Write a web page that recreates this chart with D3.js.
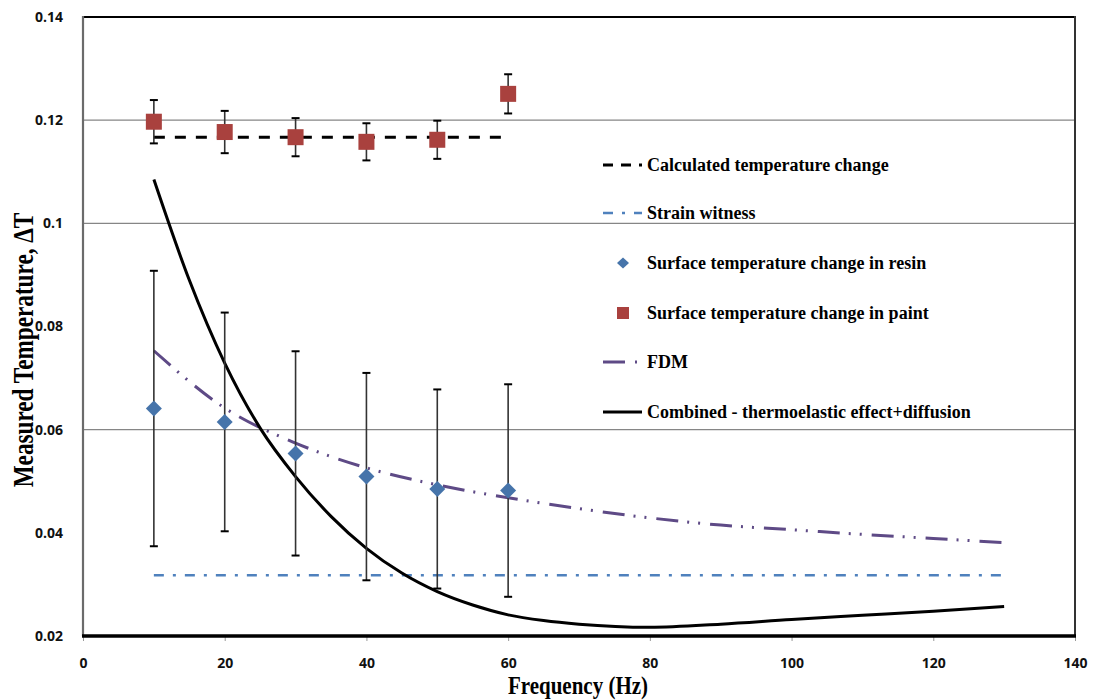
<!DOCTYPE html>
<html>
<head>
<meta charset="utf-8">
<script src="https://cdn.jsdelivr.net/npm/d3@7"></script>
<style>
  html, body { margin: 0; padding: 0; background: #fff; }
  svg { display: block; }
</style>
</head>
<body>
<svg id="chart" width="1098" height="700"></svg>
<script>
// ---- data ----
const freqs = [10, 20, 30, 40, 50, 60];
const paintValues = [0.1197, 0.1177, 0.1167, 0.1158, 0.1162, 0.1251];
const paintErrors = [0.0042, 0.0041, 0.0037, 0.0036, 0.0037, 0.0038];
const resinValues = [0.0641, 0.0615, 0.0554, 0.0509, 0.0485, 0.0482];
const resinErrors = [0.0267, 0.0212, 0.0198, 0.0201, 0.0193, 0.0206];
const calcX = [10, 60];
const calcValues = [0.1167, 0.1167];
const strainX = [10, 130];
const strainValues = [0.0318, 0.0318];
const fdmX = [10, 20, 30, 40, 50, 60, 70, 80, 90, 100, 110, 120, 130];
const fdmValues = [0.0753, 0.0642, 0.0574, 0.0526, 0.0493, 0.0468, 0.0447, 0.0429, 0.0415, 0.0406, 0.0397, 0.0389, 0.0381];
const combX = [10, 15, 20, 25, 30, 35, 40, 45, 50, 55, 60, 65, 70, 80, 90, 100, 110, 120, 130];
const combValues = [0.1085, 0.0890, 0.0729, 0.0603, 0.0509, 0.0432, 0.0370, 0.0322, 0.0286, 0.0260, 0.0241, 0.0230, 0.0223, 0.0217, 0.0223, 0.0232, 0.0240, 0.0248, 0.0257];
const xTicks = [0, 20, 40, 60, 80, 100, 120, 140];
const yTicks = [0.02, 0.04, 0.06, 0.08, 0.10, 0.12, 0.14];
const yTickLabels = ["0.02", "0.04", "0.06", "0.08", "0.1", "0.12", "0.14"];
const gridValues = [0.06, 0.10, 0.12];
const legendLabels = [
  "Calculated temperature change",
  "Strain witness",
  "Surface temperature change in resin",
  "Surface temperature change in paint",
  "FDM",
  "Combined - thermoelastic effect+diffusion"
];

// ---- layout ----
const L = 83, R = 1075, T = 17, B = 636;
const svg = d3.select("#chart");
const x = d3.scaleLinear().domain([0, 140]).range([L, R]);
const y = d3.scaleLinear().domain([0.02, 0.14]).range([B, T]);

const colPaint = "#A9413E", colResin = "#4674AA", colStrain = "#4F81BD", colFdm = "#5E4A86";
const serif = "'Liberation Serif', 'Times New Roman', serif";

// gridlines
svg.append("g").selectAll("line").data(gridValues).join("line")
  .attr("x1", L).attr("x2", R).attr("y1", d => y(d)).attr("y2", d => y(d))
  .attr("stroke", "#868686").attr("stroke-width", 1.2);

// frame
svg.append("line").attr("x1", L).attr("x2", R).attr("y1", T).attr("y2", T).attr("stroke", "#000").attr("stroke-width", 2.2);
svg.append("line").attr("x1", R).attr("x2", R).attr("y1", T - 1).attr("y2", B).attr("stroke", "#333").attr("stroke-width", 2);

// x axis
const xAxis = d3.axisBottom(x).tickValues(xTicks).tickSize(5).tickFormat(d3.format("d"));
const gx = svg.append("g").attr("transform", `translate(0,${B})`).call(xAxis);
gx.select(".domain").remove();
gx.selectAll(".tick line").attr("stroke", "#999").attr("stroke-width", 1);
gx.selectAll(".tick text").attr("dy", "0").attr("y", 32)
  .style("font-family", "'Open Sans', sans-serif").style("font-size", "14px").style("font-weight", "bold").attr("fill", "#111");

// y axis
const yAxis = d3.axisLeft(y).tickValues(yTicks).tickSize(0).tickPadding(20)
  .tickFormat((d, i) => yTickLabels[i]);
const gy = svg.append("g").attr("transform", `translate(${L},0)`).call(yAxis);
gy.select(".domain").remove();
gy.selectAll(".tick text")
  .style("font-family", "'Open Sans', sans-serif").style("font-size", "14px").style("font-weight", "bold").attr("fill", "#111");

svg.append("line").attr("x1", L).attr("x2", L).attr("y1", T - 1).attr("y2", B).attr("stroke", "#6b6b6b").attr("stroke-width", 2.2);
svg.append("line").attr("x1", L - 1).attr("x2", R + 1).attr("y1", B).attr("y2", B).attr("stroke", "#000").attr("stroke-width", 3.5);

// axis titles (condensed, tall like the reference)
svg.append("text").attr("transform", "translate(578,694) scale(0.84,1)").attr("text-anchor", "middle")
  .style("font-family", serif).style("font-size", "25px").style("font-weight", "bold")
  .text("Frequency (Hz)");
svg.append("text").attr("transform", "translate(33,350) rotate(-90) scale(0.8,1)").attr("text-anchor", "middle")
  .style("font-family", serif).style("font-size", "29px").style("font-weight", "bold")
  .text("Measured Temperature, \u0394T");

const line = d3.line().x(d => x(d[0])).y(d => y(d[1]));
const smooth = d3.line().x(d => x(d[0])).y(d => y(d[1])).curve(d3.curveMonotoneX);

// strain witness
svg.append("path").datum(d3.zip(strainX, strainValues)).attr("d", line)
  .attr("fill", "none").attr("stroke", colStrain).attr("stroke-width", 2.5).attr("stroke-dasharray", "10 9 3 9");

// FDM
svg.append("path").datum(d3.zip(fdmX, fdmValues)).attr("d", smooth)
  .attr("fill", "none").attr("stroke", colFdm).attr("stroke-width", 3).attr("stroke-dasharray", "22 9 2 9 2 10");

// combined
svg.append("path").datum(d3.zip(combX, combValues)).attr("d", smooth)
  .attr("fill", "none").attr("stroke", "#000").attr("stroke-width", 3);

// calculated
svg.append("path").datum(d3.zip(calcX, calcValues)).attr("d", line)
  .attr("fill", "none").attr("stroke", "#000").attr("stroke-width", 3).attr("stroke-dasharray", "11 10");

// error bars
function errorBars(vals, errs, color) {
  const g = svg.append("g");
  const data = freqs.map((f, i) => ({ f, v: vals[i], e: errs[i] }));
  g.selectAll("line.v").data(data).join("line").attr("class", "v")
    .attr("x1", d => x(d.f)).attr("x2", d => x(d.f))
    .attr("y1", d => y(d.v + d.e)).attr("y2", d => y(d.v - d.e))
    .attr("stroke", color).attr("stroke-width", 1.6);
  [1, -1].forEach(s => {
    g.selectAll("line.c" + (s > 0 ? "t" : "b")).data(data).join("line")
      .attr("x1", d => x(d.f) - 4).attr("x2", d => x(d.f) + 4)
      .attr("y1", d => y(d.v + s * d.e)).attr("y2", d => y(d.v + s * d.e))
      .attr("stroke", "#000").attr("stroke-width", 2);
  });
}
errorBars(resinValues, resinErrors, "#333");
errorBars(paintValues, paintErrors, "#333");

// markers
svg.append("g").selectAll("path").data(freqs.map((f, i) => [f, resinValues[i]])).join("path")
  .attr("transform", d => `translate(${x(d[0])},${y(d[1])})`)
  .attr("d", "M0,-8 L8,0 L0,8 L-8,0 Z").attr("fill", colResin);
svg.append("g").selectAll("rect").data(freqs.map((f, i) => [f, paintValues[i]])).join("rect")
  .attr("x", d => x(d[0]) - 8).attr("y", d => y(d[1]) - 8).attr("width", 16).attr("height", 16)
  .attr("fill", colPaint);

// legend
const legY = [165, 213, 263, 313, 362, 412];
const lg = svg.append("g");
const sx1 = 603, sx2 = 642;
lg.append("line").attr("x1", sx1).attr("x2", sx2).attr("y1", legY[0]).attr("y2", legY[0])
  .attr("stroke", "#000").attr("stroke-width", 3).attr("stroke-dasharray", "10 8");
lg.append("line").attr("x1", sx1).attr("x2", sx2).attr("y1", legY[1]).attr("y2", legY[1])
  .attr("stroke", colStrain).attr("stroke-width", 2.5).attr("stroke-dasharray", "10 9 3 9");
lg.append("path").attr("transform", `translate(623,${legY[2]})`).attr("d", "M0,-5.5 L6,0 L0,5.5 L-6,0 Z").attr("fill", colResin);
lg.append("rect").attr("x", 617).attr("y", legY[3] - 6).attr("width", 12).attr("height", 12).attr("fill", colPaint);
lg.append("line").attr("x1", sx1).attr("x2", sx2).attr("y1", legY[4]).attr("y2", legY[4])
  .attr("stroke", colFdm).attr("stroke-width", 3).attr("stroke-dasharray", "22 10 2 20");
lg.append("line").attr("x1", sx1).attr("x2", sx2).attr("y1", legY[5]).attr("y2", legY[5])
  .attr("stroke", "#000").attr("stroke-width", 3);
lg.selectAll("text").data(legendLabels).join("text")
  .attr("x", 647).attr("y", (d, i) => legY[i]).attr("dy", "0.35em")
  .style("font-family", serif).style("font-size", "18px").style("font-weight", "bold")
  .text(d => d);
</script>
</body>
</html>
